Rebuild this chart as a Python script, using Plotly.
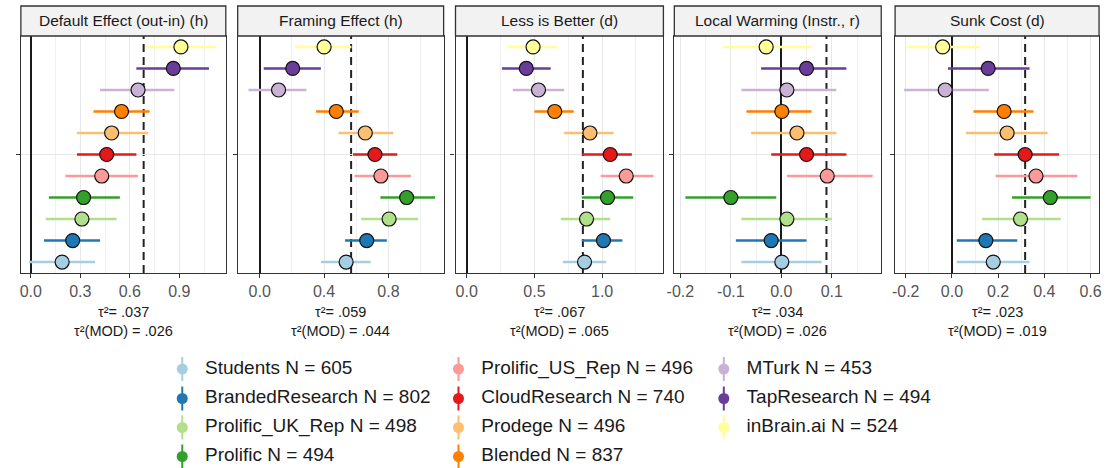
import plotly.graph_objects as go

W, H = 1107, 468

# ---------------- data ----------------
sources = ["Students N = 605", "BrandedResearch N = 802", "Prolific_UK_Rep N = 498", "Prolific N = 494",
           "Prolific_US_Rep N = 496", "CloudResearch N = 740", "Prodege N = 496", "Blended N = 837",
           "MTurk N = 453", "TapResearch N = 494", "inBrain.ai N = 524"]
colors = ["#A6CEE3", "#1F78B4", "#B2DF8A", "#33A02C", "#FB9A99", "#E31A1C",
          "#FDBF6F", "#FF7F00", "#CAB2D6", "#6A3D9A", "#FFFF99"]

panels = ["Default Effect (out-in) (h)", "Framing Effect (h)", "Less is Better (d)",
          "Local Warming (Instr., r)", "Sunk Cost (d)"]

default_est = [0.19, 0.254, 0.31, 0.32, 0.43, 0.46, 0.49, 0.55, 0.65, 0.864, 0.91]
default_lo = [-0.01, 0.08, 0.09, 0.11, 0.21, 0.28, 0.28, 0.38, 0.42, 0.64, 0.70]
default_hi = [0.39, 0.42, 0.52, 0.54, 0.65, 0.64, 0.71, 0.72, 0.87, 1.08, 1.12]

framing_est = [0.537, 0.665, 0.804, 0.913, 0.753, 0.716, 0.656, 0.476, 0.117, 0.205, 0.40]
framing_lo = [0.38, 0.53, 0.63, 0.75, 0.59, 0.58, 0.49, 0.35, -0.07, 0.025, 0.22]
framing_hi = [0.69, 0.79, 0.985, 1.09, 0.94, 0.855, 0.83, 0.615, 0.29, 0.38, 0.57]

less_est = [0.87, 1.01, 0.885, 1.04, 1.178, 1.06, 0.91, 0.65, 0.53, 0.44, 0.49]
less_lo = [0.71, 0.85, 0.695, 0.85, 0.99, 0.85, 0.72, 0.50, 0.34, 0.26, 0.30]
less_hi = [1.03, 1.15, 1.06, 1.23, 1.38, 1.22, 1.085, 0.79, 0.72, 0.62, 0.67]

warming_est = [0.001, -0.02, 0.011, -0.10, 0.091, 0.05, 0.031, 0.001, 0.011, 0.05, -0.03]
warming_lo = [-0.079, -0.09, -0.079, -0.19, 0.011, -0.02, -0.06, -0.069, -0.079, -0.04, -0.116]
warming_hi = [0.08, 0.05, 0.10, -0.01, 0.181, 0.129, 0.109, 0.06, 0.109, 0.129, 0.06]

sunk_est = [0.179, 0.147, 0.297, 0.426, 0.364, 0.317, 0.239, 0.226, -0.029, 0.157, -0.04]
sunk_lo = [0.021, 0.021, 0.131, 0.26, 0.189, 0.183, 0.06, 0.093, -0.207, -0.017, -0.194]
sunk_hi = [0.336, 0.283, 0.471, 0.60, 0.543, 0.464, 0.414, 0.353, 0.16, 0.336, 0.123]

pooled = [0.684, 0.568, 0.858, 0.0895, 0.317]
tau2 = [".037", ".059", ".067", ".034", ".023"]
tau2_mod = [".026", ".044", ".065", ".026", ".019"]

tick_vals = [[0.0, 0.3, 0.6, 0.9], [0.0, 0.4, 0.8], [0.0, 0.5, 1.0],
             [-0.2, -0.1, 0.0, 0.1], [-0.2, 0.0, 0.2, 0.4, 0.6]]
minor_step = [0.15, 0.2, 0.25, 0.05, 0.1]
x_ranges = [[-0.06, 1.182], [-0.137, 1.143], [-0.083, 1.453], [-0.212, 0.198], [-0.246, 0.637]]

ests = [default_est, framing_est, less_est, warming_est, sunk_est]
los = [default_lo, framing_lo, less_lo, warming_lo, sunk_lo]
his = [default_hi, framing_hi, less_hi, warming_hi, sunk_hi]

# ---------------- layout geometry (pixels) ----------------
panel_px = [(13, 220), (232, 440), (452, 662), (673, 882), (896, 1102)]
plot_top, plot_bot = 36, 273
strip_top = 6

FONT = "Liberation Sans, Arial, sans-serif"
fig = go.Figure()


def py(p):
    return 1 - p / H


for k in range(5):
    xa = "x" if k == 0 else f"x{k+1}"
    ya = "y" if k == 0 else f"y{k+1}"
    for i, name in enumerate(sources):
        e = ests[k][i]
        fig.add_trace(go.Scatter(
            x=[e], y=[i], mode="markers", xaxis=xa, yaxis=ya, showlegend=False,
            name=name,
            marker=dict(size=14, color=colors[i], line=dict(color="#111111", width=1.2)),
            error_x=dict(type="data", symmetric=False,
                         array=[his[k][i] - e], arrayminus=[e - los[k][i]],
                         color=colors[i], thickness=2.4, width=0),
        ))
    x0, x1 = panel_px[k]
    dom = [x0 / W, x1 / W]
    xkey = "xaxis" if k == 0 else f"xaxis{k+1}"
    ykey = "yaxis" if k == 0 else f"yaxis{k+1}"
    fig.update_layout(**{
        xkey: dict(domain=dom, anchor=ya, range=x_ranges[k],
                   tickmode="array", tickvals=tick_vals[k],
                   ticktext=[f"{v:.1f}" for v in tick_vals[k]],
                   showgrid=True, gridcolor="#E8E8E8", gridwidth=1,
                   minor=dict(tickmode="linear", tick0=0, dtick=minor_step[k], showgrid=True,
                              gridcolor="#F0F0F0", gridwidth=1, ticks=""),
                   zeroline=True, zerolinecolor="#1A1A1A", zerolinewidth=1.6,
                   showline=True, mirror=True, linecolor="#333333", linewidth=1.3,
                   ticks="outside", ticklen=4, tickcolor="#333333", tickwidth=1,
                   tickfont=dict(size=16, color="#555555", family=FONT)),
        ykey: dict(domain=[py(plot_bot), py(plot_top)], anchor=xa, range=[-0.51, 10.51],
                   tickmode="array", tickvals=[5], ticktext=[""],
                   showgrid=True, gridcolor="#E8E8E8", zeroline=False,
                   showline=True, mirror=True, linecolor="#333333", linewidth=1.3,
                   ticks="outside", ticklen=4, tickcolor="#333333", tickwidth=1),
    })
    # pooled estimate dashed line
    fig.add_shape(type="line", xref=xa, yref=f"{ya} domain", x0=pooled[k], x1=pooled[k],
                  y0=0, y1=1, line=dict(color="#222222", width=2, dash="8px,5px"), layer="below")
    # strip
    fig.add_shape(type="rect", xref="paper", yref="paper", x0=dom[0], x1=dom[1],
                  y0=py(plot_top), y1=py(strip_top), fillcolor="#F2F2F2",
                  line=dict(color="#333333", width=1.3), layer="above")
    fig.add_annotation(xref="paper", yref="paper", x=(dom[0] + dom[1]) / 2,
                       y=py((plot_top + strip_top) / 2), text=panels[k], showarrow=False,
                       font=dict(size=15.5, color="#1A1A1A", family=FONT),
                       xanchor="center", yanchor="middle")
    fig.add_annotation(xref="paper", yref="paper", x=(dom[0] + dom[1]) / 2, y=py(312),
                       text=f"τ²= {tau2[k]}", showarrow=False,
                       font=dict(size=14.5, color="#1A1A1A", family=FONT),
                       xanchor="center", yanchor="middle")
    fig.add_annotation(xref="paper", yref="paper", x=(dom[0] + dom[1]) / 2, y=py(331),
                       text=f"τ²(MOD) = {tau2_mod[k]}", showarrow=False,
                       font=dict(size=14.5, color="#1A1A1A", family=FONT),
                       xanchor="center", yanchor="middle")

# ---------------- legend (drawn on an auxiliary pixel axis) ----------------
leg_top_frac = 0.26
leg_top_px = H - leg_top_frac * H
col_glyph = [176, 455, 723]
col_text = [199, 478, 746]
row_y = [369, 398.5, 427.5, 456.5]
gx, gy, tx = [], [], []
for i in range(len(sources)):
    c, r = i // 4, i % 4
    gx.append(col_glyph[c])
    gy.append(row_y[r])
    tx.append(col_text[c])
for i, name in enumerate(sources):
    fig.add_trace(go.Scatter(
        x=[gx[i]], y=[gy[i]], mode="markers", xaxis="x6", yaxis="y6", showlegend=False,
        marker=dict(size=11, color=colors[i]),
        error_y=dict(type="constant", value=12, color=colors[i], thickness=2, width=0),
        hoverinfo="skip"))
fig.add_trace(go.Scatter(
    x=tx, y=gy, mode="text", text=sources, textposition="middle right",
    textfont=dict(size=19, color="#1A1A1A", family=FONT),
    xaxis="x6", yaxis="y6", showlegend=False, hoverinfo="skip"))

fig.update_layout(
    xaxis6=dict(domain=[0, 1], range=[0, W], visible=False, anchor="y6", fixedrange=True),
    yaxis6=dict(domain=[0, leg_top_frac], range=[H, leg_top_px], visible=False, anchor="x6",
                fixedrange=True),
    width=W, height=H, margin=dict(l=0, r=0, t=0, b=0),
    paper_bgcolor="white", plot_bgcolor="white", showlegend=False,
    font=dict(family=FONT),
)

fig.write_html("out.html")
